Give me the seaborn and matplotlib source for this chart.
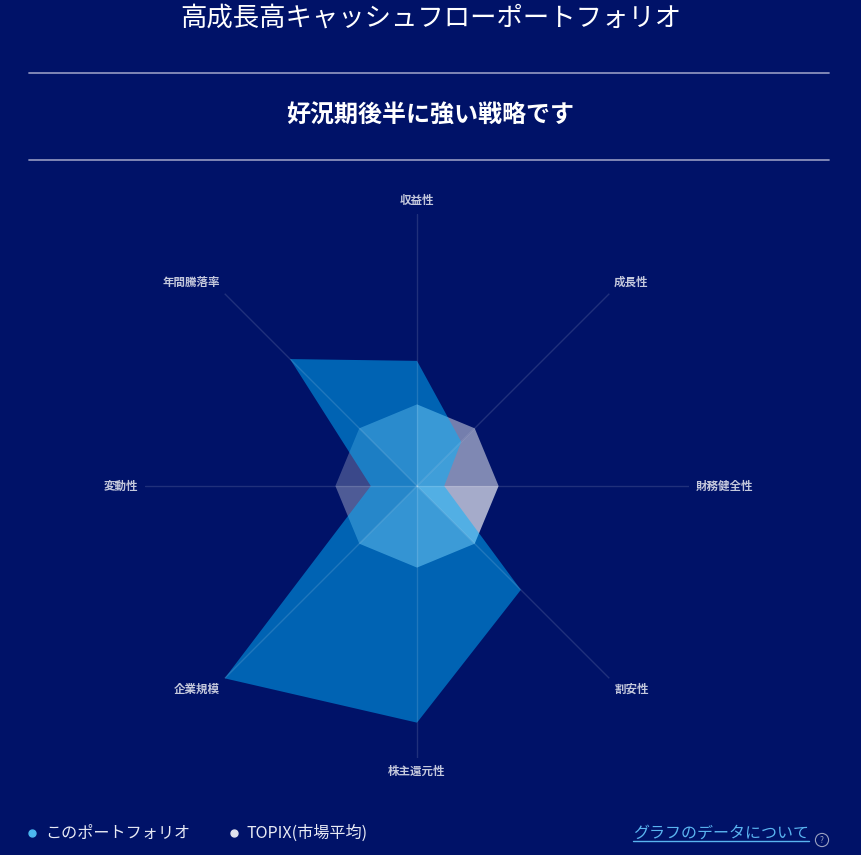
import numpy as np
import pandas as pd
import matplotlib
matplotlib.use("Agg")
import matplotlib.pyplot as plt
from matplotlib.lines import Line2D
import seaborn as sns

# ---------------- data ----------------
categories = ["収益性", "成長性", "財務健全性", "割安性", "株主還元性", "企業規模", "変動性", "年間騰落率"]
portfolio = [46, 23, 10, 54, 87, 100, 17, 66]
topix = [30, 30, 30, 30, 30, 30, 30, 30]
series_names = ["このポートフォリオ", "TOPIX(市場平均)"]
title = "高成長高キャッシュフローポートフォリオ"
subtitle = "好況期後半に強い戦略です"
link_text = "グラフのデータについて"
r_max = 100

# ---------------- style ----------------
BG = "#001268"
PORT_COLOR = "#00b4ff"
PORT_ALPHA = 0.5
TOPIX_COLOR = "#ffffff"
TOPIX_SECTOR_ALPHA = [0.46, 0.50, 0.65, 0.48, 0.42, 0.31, 0.23, 0.34]
LABEL_COLOR = "#c4c8dc"

sns.set_theme(style="white")
plt.rcParams["font.family"] = ["Noto Sans CJK JP", "DejaVu Sans"]

df = pd.DataFrame({"category": categories, "portfolio": portfolio, "topix": topix})

fig = plt.figure(figsize=(8.61, 8.55), dpi=100, facecolor=BG)

W, H = 861, 855
cx, cy, R = 417, 486, 272
ax = fig.add_axes([(cx - R) / W, (H - cy - R) / H, 2 * R / W, 2 * R / H], projection="polar")
ax.set_facecolor("none")
ax.set_theta_zero_location("N")
ax.set_theta_direction(-1)

n = len(df)
theta = np.linspace(0, 2 * np.pi, n, endpoint=False)

# TOPIX: per-sector triangles with shading
tv = df["topix"].to_numpy()
for i in range(n):
    j = (i + 1) % n
    ax.fill([0, theta[i], theta[j] if j else 2 * np.pi], [0, tv[i], tv[j]],
            color=TOPIX_COLOR, alpha=TOPIX_SECTOR_ALPHA[i], lw=0, zorder=1)

# Portfolio polygon
pv = df["portfolio"].to_numpy()
ax.fill(np.append(theta, theta[0]), np.append(pv, pv[0]),
        color=PORT_COLOR, alpha=PORT_ALPHA, lw=0, zorder=1.5)

ax.set_ylim(0, r_max)
ax.set_yticks([])
ax.set_xticks(theta)
ax.set_xticklabels([])
ax.xaxis.grid(True, color="white", alpha=0.13, lw=1)
ax.yaxis.grid(False)
ax.set_axisbelow(False)
ax.spines["polar"].set_visible(False)

# axis labels
r_lab = 102.5
for ang, lab in zip(theta, df["category"]):
    s, c = np.sin(ang), np.cos(ang)
    ha = "center" if abs(s) < 0.1 else ("left" if s > 0 else "right")
    va = "center" if abs(c) < 0.1 else ("bottom" if c > 0 else "top")
    ax.text(ang, r_lab, lab, ha=ha, va=va, fontsize=8.3, color=LABEL_COLOR,
            fontweight="bold")

# titles and separators
fig.text(0.5, 1 - 18 / H, title, ha="center", va="center", fontsize=19, color="white")
fig.text(0.5, 1 - 116 / H, subtitle, ha="center", va="center", fontsize=17.3,
         color="white", fontweight="bold")
for yy in (73, 160):
    fig.add_artist(Line2D([29 / W, 829 / W], [1 - yy / H, 1 - yy / H],
                          transform=fig.transFigure, color="#8a90bc", lw=1.3))

# legend
leg_y = 1 - 833 / H
fig.add_artist(Line2D([32 / W], [leg_y], transform=fig.transFigure, marker="o",
                      ms=5, color="#4cb8f0", lw=0))
fig.text(45 / W, leg_y, series_names[0], ha="left", va="center", fontsize=11.6, color="#e8eaf4")
fig.add_artist(Line2D([234 / W], [leg_y], transform=fig.transFigure, marker="o",
                      ms=5, color="#e0e2ec", lw=0))
fig.text(247 / W, leg_y, series_names[1], ha="left", va="center", fontsize=11.6, color="#e8eaf4")

# link text with underline
link = fig.text(633 / W, leg_y, link_text, ha="left", va="center", fontsize=11.5, color="#5ab4f0")
fig.canvas.draw()
bb = link.get_window_extent(renderer=fig.canvas.get_renderer())
uy = (bb.y0 + 1) / (H)
fig.add_artist(Line2D([bb.x0 / W, bb.x1 / W], [uy, uy], transform=fig.transFigure,
                      color="#5ab4f0", lw=1))
fig.text(822 / W, 1 - 840 / H, "?", ha="center", va="center", fontsize=6, color="#9aa0c0",
         bbox=dict(boxstyle="circle,pad=0.25", fc="none", ec="#9aa0c0", lw=0.8))

fig.savefig("out.png", dpi=100, facecolor=BG)
